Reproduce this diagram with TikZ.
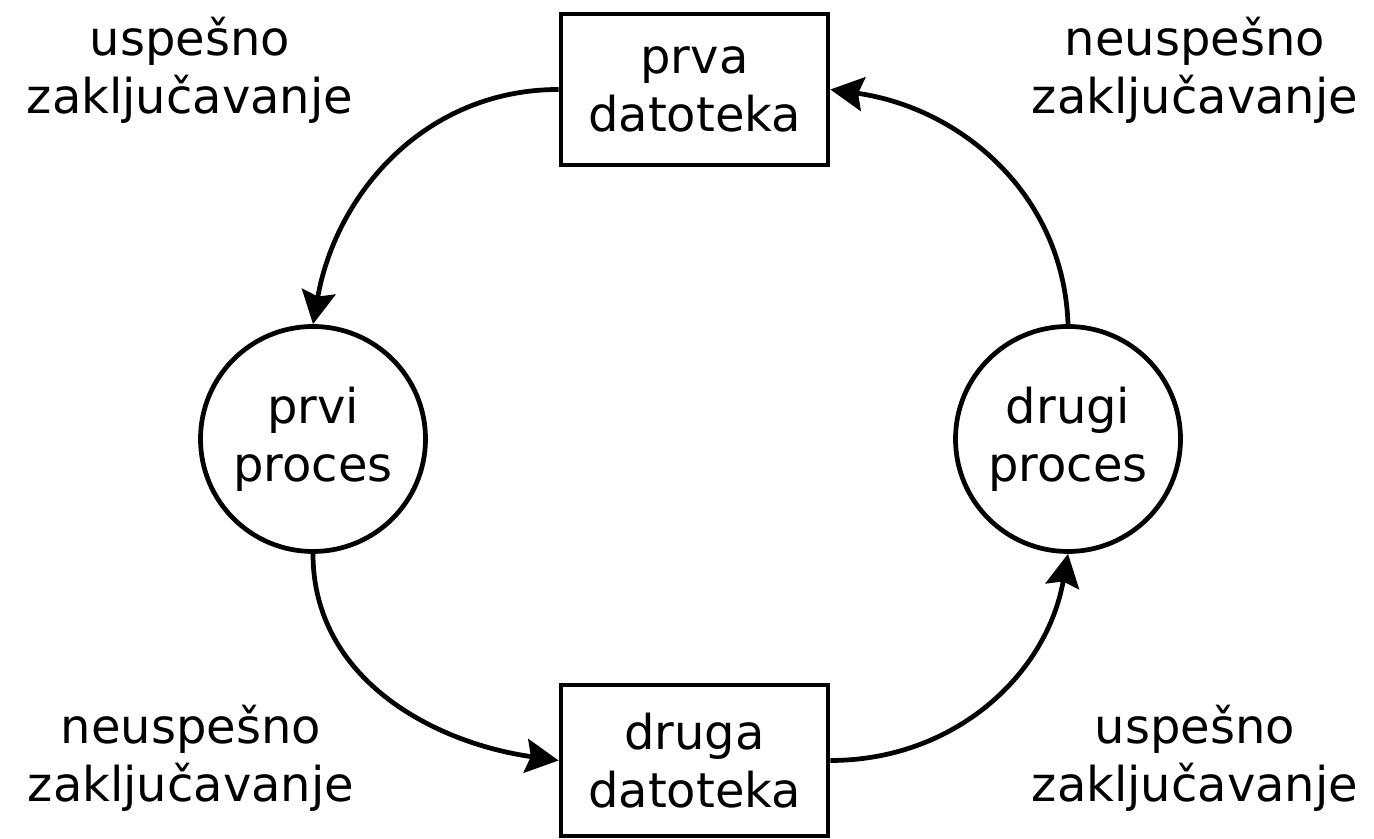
\documentclass[tikz,border=0pt]{standalone}
\usepackage{fontspec}
\setmainfont{DejaVu Sans}
\usepackage{tikz}
\usetikzlibrary{arrows.meta,positioning}

\begin{document}
\begin{tikzpicture}[font=\fontsize{27.3pt}{33pt}\selectfont,
  dat/.style={draw,rectangle,line width=2.7pt,minimum width=5.34cm,minimum height=3.02cm,align=center},
  proc/.style={draw,circle,line width=2.7pt,minimum size=4.5cm,inner sep=0pt,align=center},
  lbl/.style={align=center},
  lock/.style={line width=2.7pt,-{Stealth[length=0.66cm,width=0.68cm,inset=0.1cm]}}]
\useasboundingbox (0cm,0cm) rectangle (27.48cm,16.78cm);
\node[dat] (1) at (13.89cm,14.99cm) {prva\\datoteka};
\node[dat] (2) at (13.89cm,1.57cm) {druga\\datoteka};
\node[proc] (3) at (6.26cm,8.0cm) {prvi\\proces};
\node[proc] (4) at (21.36cm,8.0cm) {drugi\\proces};
\node[lbl] (5) at (3.8cm,15.38cm) {uspešno\\zaključavanje};
\node[lbl] (6) at (23.9cm,15.38cm) {neuspešno\\zaključavanje};
\node[lbl] (7) at (3.82cm,1.62cm) {neuspešno\\zaključavanje};
\node[lbl] (8) at (23.9cm,1.62cm) {uspešno\\zaključavanje};
\draw[lock] (1.west) to [out=180,in=80] (3.north);
\draw[lock] (3.south) to [out=270,in=172] (2.west);
\draw[lock] (2.east) to [out=0,in=260] (4.south);
\draw[lock] (4.north) to [out=92,in=352] (1.east);
\end{tikzpicture}
\end{document}
